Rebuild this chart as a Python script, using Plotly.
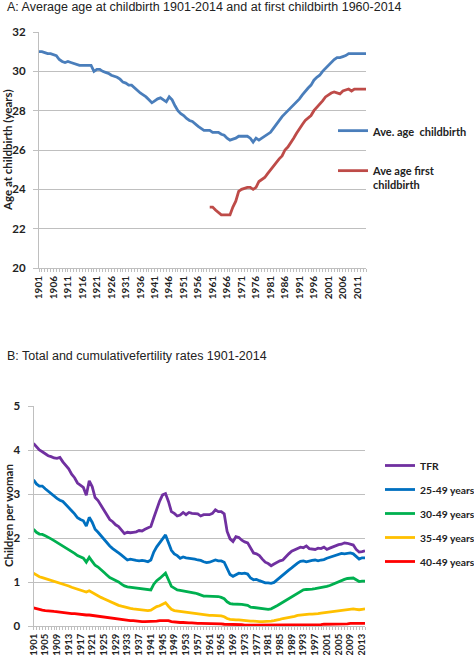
import plotly.graph_objects as go

years = list(range(1901, 2015))

# Panel A: average age at childbirth (1901-2014)
ave_age_childbirth = [
    31.0, 31.0, 30.95, 30.9, 30.9, 30.85, 30.8, 30.6, 30.5, 30.45,
    30.5, 30.45, 30.4, 30.35, 30.3, 30.3, 30.3, 30.3, 30.3, 30.0,
    30.1, 30.1, 30.0, 29.95, 29.9, 29.8, 29.75, 29.7, 29.6, 29.45,
    29.4, 29.3, 29.3, 29.15, 29.0, 28.9, 28.8, 28.7, 28.55, 28.4,
    28.5, 28.6, 28.65, 28.55, 28.45, 28.7, 28.55, 28.25, 28.0, 27.85,
    27.75, 27.6, 27.5, 27.45, 27.3, 27.2, 27.1, 27.0, 27.0, 27.0,
    26.9, 26.9, 26.9, 26.8, 26.75, 26.6, 26.5, 26.55, 26.6, 26.7,
    26.7, 26.7, 26.7, 26.6, 26.4, 26.6, 26.5, 26.6, 26.7, 26.8,
    26.9, 27.1, 27.3, 27.55, 27.7, 27.85, 28.0, 28.15, 28.25, 28.4,
    28.6, 28.8, 29.0, 29.15, 29.3, 29.55, 29.7, 29.8, 30.0, 30.15,
    30.3, 30.5, 30.6, 30.7, 30.7, 30.75, 30.8, 30.9, 30.9, 30.9,
    30.9, 30.9, 30.9, 30.9,
]

# Panel A: average age at first childbirth (1960-2014)
first_years = list(range(1960, 2015))
ave_age_first = [
    23.1, 23.1, 22.95, 22.8, 22.7, 22.7, 22.7, 22.7, 23.1, 23.4,
    23.9, 24.0, 24.05, 24.1, 24.1, 24.0, 24.1, 24.4, 24.5, 24.6,
    24.8, 25.0, 25.2, 25.4, 25.55, 25.7, 26.0, 26.15, 26.35, 26.6,
    26.85, 27.1, 27.3, 27.5, 27.65, 27.75, 28.0, 28.15, 28.3, 28.5,
    28.7, 28.8, 28.9, 28.95, 28.9, 28.85, 29.0, 29.05, 29.1, 29.0,
    29.1, 29.1, 29.1, 29.1, 29.1,
]

# Panel B: total and cumulative fertility rates (1901-2014)
tfr = [
    4.15, 4.08, 4.0, 3.96, 3.92, 3.87, 3.85, 3.82, 3.81, 3.83,
    3.73, 3.64, 3.57, 3.45, 3.37, 3.25, 3.2, 3.15, 2.97, 3.3,
    3.17, 2.92, 2.85, 2.74, 2.62, 2.52, 2.42, 2.37, 2.3, 2.26,
    2.18, 2.1, 2.13, 2.12, 2.13, 2.14, 2.17, 2.16, 2.2, 2.23,
    2.26, 2.46, 2.66, 2.84, 2.98, 3.01, 2.83, 2.6, 2.56, 2.5,
    2.52, 2.58, 2.53, 2.58, 2.56, 2.56, 2.55, 2.5, 2.53, 2.53,
    2.53, 2.56, 2.64, 2.6, 2.6, 2.55, 2.15, 1.98, 1.92, 2.03,
    2.01, 1.95, 1.91, 1.89, 1.76, 1.66, 1.64, 1.6, 1.52, 1.45,
    1.42, 1.37, 1.41, 1.45, 1.48, 1.5, 1.58, 1.64, 1.7, 1.73,
    1.77, 1.79, 1.78, 1.82, 1.76, 1.75, 1.74, 1.77, 1.76, 1.79,
    1.74, 1.77, 1.8, 1.82, 1.85, 1.86, 1.89, 1.88, 1.86, 1.84,
    1.74, 1.68, 1.69, 1.71,
]
cfr_25_49 = [
    3.32, 3.23, 3.18, 3.18, 3.12, 3.06, 3.0, 2.95, 2.9, 2.86,
    2.83, 2.76, 2.7, 2.62, 2.55, 2.46, 2.42, 2.39, 2.27, 2.47,
    2.36, 2.2, 2.13, 2.05, 1.97, 1.9, 1.82, 1.76, 1.72, 1.66,
    1.61, 1.55, 1.5, 1.52, 1.5, 1.49, 1.48, 1.49, 1.48, 1.46,
    1.5, 1.68, 1.8, 1.88, 1.98, 2.07, 1.9, 1.72, 1.64, 1.6,
    1.54, 1.57, 1.55, 1.54, 1.54, 1.52, 1.5, 1.49, 1.46, 1.44,
    1.45, 1.47, 1.5, 1.48, 1.48, 1.45, 1.3, 1.17, 1.13, 1.16,
    1.2, 1.19, 1.2, 1.18, 1.09, 1.05, 1.06, 1.03, 1.01, 0.98,
    0.98, 0.97, 0.99, 1.05, 1.11, 1.16, 1.21, 1.27, 1.32, 1.38,
    1.43, 1.47, 1.48, 1.46, 1.48, 1.49, 1.5, 1.48, 1.5, 1.51,
    1.54, 1.56, 1.59, 1.6, 1.62, 1.65, 1.64, 1.65, 1.66, 1.64,
    1.58, 1.52, 1.55, 1.55,
]
cfr_30_49 = [
    2.2, 2.13, 2.09, 2.08, 2.05, 2.02, 1.98, 1.94, 1.9, 1.86,
    1.83, 1.78, 1.74, 1.69, 1.65, 1.6, 1.56, 1.54, 1.45, 1.56,
    1.47, 1.38, 1.34, 1.29, 1.22, 1.16, 1.1, 1.07, 1.04, 1.0,
    0.95, 0.91, 0.89, 0.88, 0.87, 0.86, 0.85, 0.84, 0.83, 0.82,
    0.82, 0.95, 1.03, 1.08, 1.14, 1.2, 1.05, 0.9, 0.86, 0.82,
    0.81, 0.8, 0.79, 0.78, 0.77, 0.75, 0.73, 0.7, 0.68, 0.68,
    0.68, 0.67, 0.68, 0.67, 0.65, 0.62, 0.55, 0.51, 0.5, 0.5,
    0.5, 0.49, 0.48, 0.47, 0.43, 0.42, 0.41, 0.4, 0.39, 0.38,
    0.38, 0.39, 0.42, 0.46, 0.5, 0.54, 0.58, 0.62, 0.66, 0.7,
    0.75, 0.79, 0.82, 0.83, 0.83, 0.84, 0.85, 0.86, 0.88, 0.89,
    0.9, 0.92, 0.95, 0.98, 1.01, 1.04, 1.06, 1.08, 1.09, 1.09,
    1.05, 1.01, 1.02, 1.02,
]
cfr_35_49 = [
    1.2, 1.16, 1.12, 1.1, 1.08, 1.06, 1.03, 1.01, 0.99, 0.98,
    0.96, 0.94, 0.91, 0.88, 0.86, 0.83, 0.81, 0.79, 0.77, 0.8,
    0.76, 0.72, 0.69, 0.65, 0.62, 0.59, 0.55, 0.52, 0.5, 0.47,
    0.45, 0.43, 0.41, 0.4, 0.39, 0.38, 0.37, 0.36, 0.35, 0.35,
    0.36, 0.41, 0.44, 0.46, 0.5, 0.53, 0.45, 0.38, 0.35, 0.34,
    0.33, 0.32, 0.31, 0.3, 0.29, 0.28, 0.27, 0.26, 0.25, 0.25,
    0.24, 0.24, 0.24, 0.23, 0.23, 0.21, 0.17, 0.15, 0.14, 0.14,
    0.14, 0.13, 0.13, 0.12, 0.11, 0.11, 0.1, 0.1, 0.1, 0.1,
    0.1, 0.11, 0.12, 0.13, 0.15, 0.17, 0.18, 0.2, 0.21, 0.22,
    0.24, 0.25, 0.26, 0.26, 0.27, 0.27, 0.27, 0.28, 0.29, 0.3,
    0.3, 0.31, 0.32, 0.34, 0.35, 0.36, 0.37, 0.38, 0.39, 0.39,
    0.38, 0.37, 0.38, 0.39,
]
cfr_40_49 = [
    0.41, 0.39, 0.38, 0.36, 0.35, 0.35, 0.34, 0.33, 0.32, 0.31,
    0.31, 0.3, 0.29, 0.28, 0.28, 0.27, 0.26, 0.26, 0.25, 0.25,
    0.24, 0.23, 0.22, 0.21, 0.2, 0.19, 0.18, 0.17, 0.16, 0.15,
    0.14, 0.14, 0.13, 0.12, 0.12, 0.11, 0.11, 0.1, 0.1, 0.1,
    0.1, 0.11, 0.11, 0.12, 0.12, 0.13, 0.12, 0.1, 0.09, 0.08,
    0.08, 0.08, 0.07, 0.07, 0.07, 0.06, 0.06, 0.06, 0.06, 0.05,
    0.05, 0.05, 0.05, 0.05, 0.05, 0.04, 0.04, 0.03, 0.03, 0.03,
    0.03, 0.03, 0.02, 0.02, 0.02, 0.02, 0.02, 0.02, 0.02, 0.02,
    0.02, 0.02, 0.02, 0.02, 0.02, 0.02, 0.02, 0.02, 0.02, 0.02,
    0.02, 0.03, 0.03, 0.03, 0.03, 0.03, 0.03, 0.03, 0.03, 0.04,
    0.04, 0.04, 0.04, 0.04, 0.05, 0.05, 0.05, 0.05, 0.06, 0.06,
    0.06, 0.06, 0.06, 0.06,
]

W, H = 474, 655
GRID = "#BFBFBF"
AX_FONT = "Lato, 'Open Sans', sans-serif"
TITLE_FONT = "'Liberation Sans', Arial, sans-serif"
LW = 2.8

fig = go.Figure()

fig.add_trace(go.Scatter(x=years, y=ave_age_childbirth, mode="lines",
                         name="Ave. age  childbirth", line=dict(color="#4A7EBB", width=LW),
                         xaxis="x", yaxis="y", legend="legend", legendgroup="a1"))
fig.add_trace(go.Scatter(x=first_years, y=ave_age_first, mode="lines",
                         name="Ave age first<br>childbirth", line=dict(color="#BE4B48", width=LW),
                         xaxis="x", yaxis="y", legend="legend", legendgroup="a2"))

series_b = [
    ("TFR", tfr, "#7030A0"),
    ("25-49 years", cfr_25_49, "#0070C0"),
    ("30-49 years", cfr_30_49, "#00B050"),
    ("35-49 years", cfr_35_49, "#FFC000"),
    ("40-49 years", cfr_40_49, "#FF0000"),
]
for i, (nm, vals, col) in enumerate(series_b):
    fig.add_trace(go.Scatter(x=years, y=vals, mode="lines", name=nm,
                             line=dict(color=col, width=LW),
                             xaxis="x2", yaxis="y2", legend="legend2",
                             legendgroup="b%d" % i))

def xaxis_cfg(domain, anchor, dtick, fsize):
    return dict(
        domain=domain, anchor=anchor, range=[1901, 2014], tick0=1901, dtick=dtick,
        tickangle=-90, tickfont=dict(family=AX_FONT, size=fsize, color="#222", weight="bold"),
        showgrid=False, zeroline=False, showline=True, linecolor=GRID, linewidth=1,
        ticks="outside", ticklen=3, tickcolor=GRID, automargin=False,
        minor=dict(dtick=1, tick0=1901, ticks="outside", ticklen=3, tickcolor=GRID, showgrid=False),
        fixedrange=True,
    )

def yaxis_cfg(domain, anchor, rng, dtick):
    return dict(
        domain=domain, anchor=anchor, range=rng, dtick=dtick,
        tickfont=dict(family=AX_FONT, size=11.5, color="#222", weight="bold"),
        showgrid=True, gridcolor=GRID, gridwidth=1, zeroline=False,
        showline=True, linecolor=GRID, linewidth=1,
        ticks="outside", ticklen=5, tickcolor=GRID, ticklabelstandoff=5,
        automargin=False, fixedrange=True,
    )

AXT_FONT = dict(family=AX_FONT, size=11.5, color="#222", weight="bold")

fig.update_layout(
    width=W, height=H,
    margin=dict(l=0, r=0, t=0, b=0, autoexpand=False),
    paper_bgcolor="white", plot_bgcolor="white",
    showlegend=True,
    xaxis=xaxis_cfg([39 / W, 366 / W], "y", 5, 10),
    yaxis=yaxis_cfg([1 - 268 / H, 1 - 32 / H], "x", [20, 32], 2),
    xaxis2=xaxis_cfg([33.5 / W, 365 / W], "y2", 4, 9.5),
    yaxis2=yaxis_cfg([1 - 626 / H, 1 - 406 / H], "x2", [0, 5], 1),
    legend=dict(x=333 / W, y=1 - 117 / H, xanchor="left", yanchor="top",
                font=dict(family=AX_FONT, size=11, color="#222", weight="bold"),
                bgcolor="rgba(0,0,0,0)", traceorder="grouped",
                tracegroupgap=21, valign="top", itemwidth=30),
    legend2=dict(x=380 / W, y=1 - 451 / H, xanchor="left", yanchor="top",
                 font=dict(family=AX_FONT, size=10.3, color="#222", weight="bold"),
                 bgcolor="rgba(0,0,0,0)", traceorder="grouped",
                 tracegroupgap=5, itemwidth=30),
    annotations=[
        dict(text="A: Average age at childbirth 1901-2014 and at first childbirth 1960-2014",
             xref="paper", yref="paper", x=5 / W, y=1 - 7 / H, xanchor="left", yanchor="middle",
             showarrow=False, font=dict(family=TITLE_FONT, size=12.5, color="#222")),
        dict(text="B: Total and cumulativefertility rates 1901-2014",
             xref="paper", yref="paper", x=5 / W, y=1 - 356 / H, xanchor="left", yanchor="middle",
             showarrow=False, font=dict(family=TITLE_FONT, size=12.5, color="#222")),
        dict(text="Age at childbirth (years)", textangle=-90,
             xref="paper", yref="paper", x=8 / W, y=1 - 150 / H, xanchor="center", yanchor="middle",
             showarrow=False, font=AXT_FONT),
        dict(text="Children per woman", textangle=-90,
             xref="paper", yref="paper", x=8 / W, y=1 - 516 / H, xanchor="center", yanchor="middle",
             showarrow=False, font=AXT_FONT),
    ],
)

fig.write_html("out.html",
               config={"displayModeBar": False},
               post_script="document.body.style.margin='0';document.body.style.padding='0';")
